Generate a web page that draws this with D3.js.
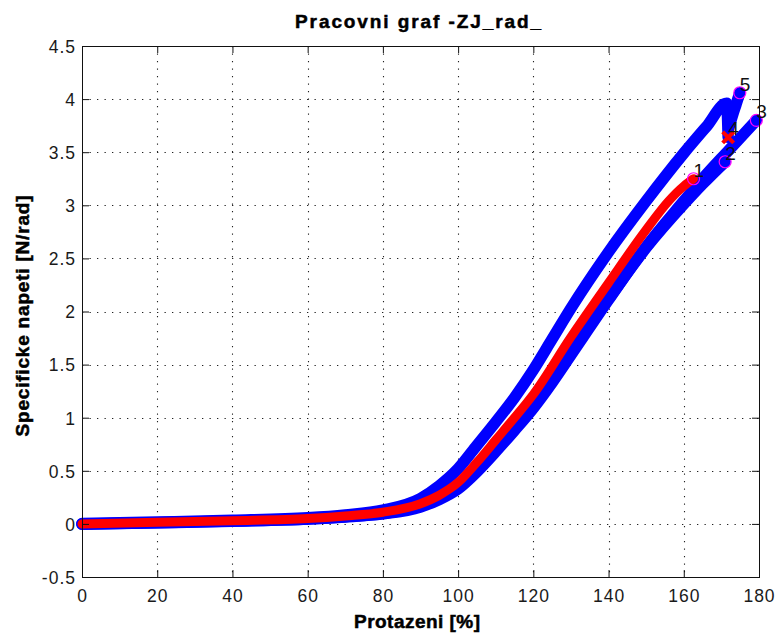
<!DOCTYPE html>
<html>
<head>
<meta charset="utf-8">
<script src="https://cdn.jsdelivr.net/npm/d3@7"></script>
<style>
  html, body { margin: 0; padding: 0; background: #fff; }
  svg { display: block; }
  .tick text { font-family: "Liberation Sans", Arial, sans-serif; font-size: 17.5px; letter-spacing: 1px; fill: #1a1a1a; }
  .lbl { font-family: "Liberation Sans", Arial, sans-serif; font-weight: bold; font-size: 19px; fill: #000; stroke: #000; stroke-width: 0.5px; }
  .num { font-family: "Liberation Sans", Arial, sans-serif; font-size: 19px; fill: #111; }
</style>
</head>
<body>
<svg id="chart" width="777" height="639"></svg>
<script>
// Axis ticks and their labels
const xTicks = [0, 20, 40, 60, 80, 100, 120, 140, 160, 180];
const xTickLabels = ["0", "20", "40", "60", "80", "100", "120", "140", "160", "180"];
const yTicks = [-0.5, 0, 0.5, 1, 1.5, 2, 2.5, 3, 3.5, 4, 4.5];
const yTickLabels = ["-0.5", "0", "0.5", "1", "1.5", "2", "2.5", "3", "3.5", "4", "4.5"];

// Loading cycles: elongation [%] and specific stress [N/rad]
const cycle1Strain = [0, 20, 40, 60, 70, 80, 90, 95, 100, 105, 110, 115, 120, 130, 140, 150, 156, 160, 162.6];
const cycle1Stress = [0, 0.015, 0.03, 0.05, 0.075, 0.11, 0.19, 0.27, 0.39, 0.58, 0.79, 1.0, 1.22, 1.76, 2.27, 2.77, 3.04, 3.18, 3.25];

const cycle2Strain = [0, 20, 40, 60, 70, 80, 90, 95, 100, 105, 110, 115, 120, 125, 130, 140, 150, 160, 165, 171.0];
const cycle2Stress = [0, 0.012, 0.028, 0.047, 0.068, 0.098, 0.17, 0.25, 0.35, 0.52, 0.71, 0.92, 1.14, 1.38, 1.63, 2.12, 2.60, 3.01, 3.20, 3.41];

const cycle3Strain = [0, 20, 40, 60, 70, 80, 90, 95, 100, 105, 110, 115, 120, 125, 130, 140, 150, 160, 165, 172, 179.3];
const cycle3Stress = [-0.004, 0.01, 0.025, 0.045, 0.065, 0.095, 0.16, 0.23, 0.33, 0.49, 0.68, 0.88, 1.09, 1.33, 1.59, 2.11, 2.61, 3.04, 3.25, 3.52, 3.80];

const cycle4Strain = [0, 20, 40, 60, 70, 80, 90, 95, 100, 105, 110, 115, 120, 125, 130, 140, 150, 160, 166, 171.4, 171.8];
const cycle4Stress = [0.004, 0.018, 0.034, 0.058, 0.085, 0.13, 0.24, 0.36, 0.52, 0.74, 0.96, 1.19, 1.45, 1.74, 2.03, 2.56, 3.04, 3.49, 3.74, 3.96, 3.64];

const cycle5Strain = [171.9, 172.9, 173.9, 174.9];
const cycle5Stress = [3.72, 3.84, 3.95, 4.06];

// Marker shape drawn at the end of each cycle
const cycleNames = ["1", "2", "3", "4", "5"];
const cycleMarkers = ["circle", "circle", "circle", "cross", "circle"];

const svg = d3.select("#chart");
const x = d3.scaleLinear().domain([0, 180]).range([82, 759]);
const y = d3.scaleLinear().domain([-0.5, 4.5]).range([577, 46]);

const zip = (xs, ys) => xs.map((v, i) => [v, ys[i]]);
const cycles = [
  zip(cycle1Strain, cycle1Stress),
  zip(cycle2Strain, cycle2Stress),
  zip(cycle3Strain, cycle3Stress),
  zip(cycle4Strain, cycle4Stress),
  zip(cycle5Strain, cycle5Stress)
];

// Dotted grid
const grid = svg.append("g").attr("stroke", "#222").attr("stroke-width", 1.1)
  .attr("stroke-dasharray", "1.3,6.2");
grid.selectAll("line.gx").data(xTicks.slice(1, -1)).join("line")
  .attr("x1", d => Math.round(x(d)) + 0.5).attr("x2", d => Math.round(x(d)) + 0.5)
  .attr("y1", y(4.5)).attr("y2", y(-0.5));
grid.selectAll("line.gy").data(yTicks.slice(1, -1)).join("line")
  .attr("y1", d => Math.round(y(d)) + 0.5).attr("y2", d => Math.round(y(d)) + 0.5)
  .attr("x1", x(0)).attr("x2", x(180));

// Curves: blue cycles underneath, first cycle in red on top
const line = d3.line().x(d => x(d[0])).y(d => y(d[1])).curve(d3.curveMonotoneX);
const curves = svg.append("g").attr("fill", "none")
  .attr("stroke-linecap", "round").attr("stroke-linejoin", "round");
[1, 2, 3, 4].forEach(i => {
  curves.append("path").attr("d", line(cycles[i]))
    .attr("stroke", "#0000ff").attr("stroke-width", 11.5);
});
curves.append("path").attr("d", line(cycles[0]))
  .attr("stroke", "#ff0000").attr("stroke-width", 9);

// End markers with cycle numbers
const marks = svg.append("g");
cycles.forEach((c, i) => {
  const p = c[c.length - 1];
  const px = x(p[0]), py = y(p[1]);
  if (cycleMarkers[i] === "circle") {
    marks.append("circle").attr("cx", px).attr("cy", py).attr("r", 6)
      .attr("fill", "none").attr("stroke", "#ff00ff").attr("stroke-width", 1.2);
  } else {
    const s = 5.5;
    marks.append("path")
      .attr("d", `M${px - s},${py - s}L${px + s},${py + s}M${px - s},${py + s}L${px + s},${py - s}`)
      .attr("stroke", "#ff0000").attr("stroke-width", 4).attr("fill", "none");
  }
  marks.append("text").attr("class", "num")
    .attr("x", px).attr("y", py - 2).text(cycleNames[i]);
});

// Axes with inward ticks on all four sides
svg.append("g").attr("transform", `translate(0,${y(-0.5)})`)
  .call(d3.axisBottom(x).tickValues(xTicks).tickSize(-7).tickSizeOuter(0).tickPadding(13)
    .tickFormat((d, i) => xTickLabels[i]));
const yAxis = svg.append("g").attr("transform", `translate(${x(0)},0)`)
  .call(d3.axisLeft(y).tickValues(yTicks).tickSize(-7).tickSizeOuter(0).tickPadding(6)
    .tickFormat((d, i) => yTickLabels[i]));
svg.append("g").attr("transform", `translate(0,${y(4.5)})`)
  .call(d3.axisTop(x).tickValues(xTicks).tickSize(-7).tickSizeOuter(0).tickFormat(""));
svg.append("g").attr("transform", `translate(${x(180)},0)`)
  .call(d3.axisRight(y).tickValues(yTicks).tickSize(-7).tickSizeOuter(0).tickFormat(""));
svg.selectAll(".domain").remove();
svg.selectAll(".tick line").attr("stroke", "#111");
yAxis.selectAll(".tick text").attr("dy", "0.36em");

// Plot frame
svg.append("rect")
  .attr("x", x(0) + 0.5).attr("y", y(4.5) + 0.5)
  .attr("width", x(180) - x(0)).attr("height", y(-0.5) - y(4.5))
  .attr("fill", "none").attr("stroke", "#111").attr("stroke-width", 1);

// Title and axis labels
svg.append("text").attr("class", "lbl")
  .attr("x", 418).attr("y", 28).attr("text-anchor", "middle")
  .attr("textLength", 246).attr("lengthAdjust", "spacing")
  .text("Pracovni graf -ZJ_rad_");
svg.append("text").attr("class", "lbl")
  .attr("x", 417).attr("y", 628).attr("text-anchor", "middle")
  .attr("textLength", 126).attr("lengthAdjust", "spacing")
  .text("Protazeni [%]");
svg.append("text").attr("class", "lbl")
  .attr("transform", "translate(29,316) rotate(-90)").attr("text-anchor", "middle")
  .attr("textLength", 241).attr("lengthAdjust", "spacing")
  .text("Specificke napeti [N/rad]");
</script>
</body>
</html>
